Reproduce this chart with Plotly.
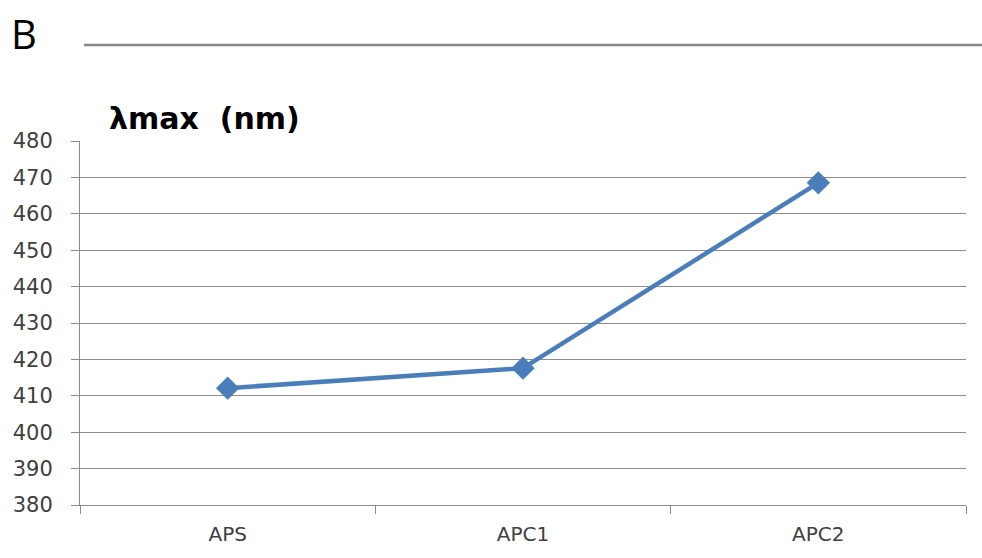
import plotly.graph_objects as go

# Absorption maxima of the three samples
samples = ["APS", "APC1", "APC2"]
lambda_max = [412.1, 417.6, 468.5]

y_ticks = list(range(380, 481, 10))

W, H = 982, 558
L, R, T, B = 80, 16, 141, 53
plot_w = W - L - R
plot_h = H - T - B


def px_x(px):
    return (px - L) / plot_w


def px_y(py):
    return (H - B - py) / plot_h


fig = go.Figure()
fig.add_trace(go.Scatter(
    x=samples,
    y=lambda_max,
    mode="lines+markers",
    line=dict(color="#4A7EBB", width=4.5),
    marker=dict(symbol="diamond", size=18, color="#4A7EBB"),
    showlegend=False,
))

axis_font = dict(family="DejaVu Sans", size=21, color="#404040")

fig.update_layout(
    width=W, height=H,
    margin=dict(l=L, r=R, t=T, b=B),
    paper_bgcolor="white",
    plot_bgcolor="white",
    xaxis=dict(
        type="category",
        range=[-0.5, 2.5],
        tickson="boundaries",
        ticks="outside",
        ticklen=8,
        tickcolor="#8c8c8c",
        showgrid=False,
        showline=True,
        linecolor="#8c8c8c",
        linewidth=1,
        tickfont=dict(family="DejaVu Sans", size=20, color="#404040"),
        ticklabelstandoff=11,
    ),
    yaxis=dict(
        range=[380, 480],
        tickvals=y_ticks,
        ticks="outside",
        ticklen=8,
        tickcolor="#8c8c8c",
        showgrid=True,
        gridcolor="#8c8c8c",
        gridwidth=1,
        showline=True,
        linecolor="#8c8c8c",
        linewidth=1,
        zeroline=False,
        tickfont=axis_font,
        ticklabelstandoff=14,
    ),
    annotations=[
        dict(text="B", x=px_x(9), y=px_y(34), xref="paper", yref="paper",
             xanchor="left", yanchor="middle", showarrow=False,
             font=dict(family="Open Sans", size=40, color="black")),
        dict(text="<b>λmax  (nm)</b>", x=px_x(107), y=px_y(118),
             xref="paper", yref="paper", xanchor="left", yanchor="middle",
             showarrow=False,
             font=dict(family="DejaVu Sans", size=30, color="black")),
    ],
    shapes=[
        dict(type="line", xref="paper", yref="paper",
             x0=px_x(84), x1=px_x(982), y0=px_y(45), y1=px_y(45),
             line=dict(color="#888888", width=2.5)),
    ],
)

fig.write_html("out.html")
